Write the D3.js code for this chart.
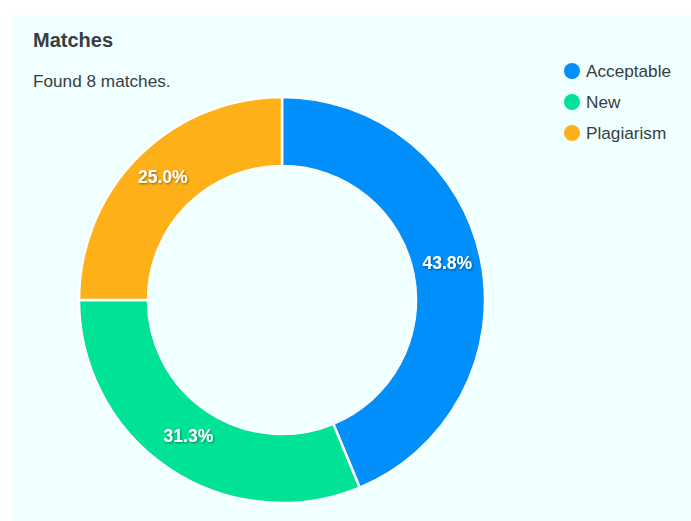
<!DOCTYPE html>
<html>
<head>
<meta charset="utf-8">
<script src="https://d3js.org/d3.v7.min.js"></script>
<style>
  html, body { margin: 0; padding: 0; background: #ffffff; }
  #chart { display: block; }
</style>
</head>
<body>
<svg id="chart"></svg>
<script>
// chart data
var categories = ["Acceptable", "New", "Plagiarism"];
var counts = [7, 5, 4];
var colors = ["#008ffb", "#00e396", "#feb019"];
var title = "Matches";
var subtitle = "Found 8 matches.";

var W = 691, H = 521;
var cx = 282, cy = 300,
    outerR = 203, innerR = 134;

var svg = d3.select("#chart")
    .attr("width", W)
    .attr("height", H)
    .style("font-family", "'Liberation Sans', Arial, Helvetica, sans-serif");

// panel background
svg.append("rect")
    .attr("x", 12).attr("y", 15)
    .attr("width", W - 12).attr("height", H - 15)
    .attr("fill", "#f0ffff");

svg.append("text")
    .attr("x", 33).attr("y", 47)
    .attr("font-size", 20)
    .attr("font-weight", "bold")
    .attr("fill", "#373d3f")
    .text(title);

svg.append("text")
    .attr("x", 33).attr("y", 87)
    .attr("font-size", 17.2)
    .attr("fill", "#373d3f")
    .text(subtitle);

// drop shadow for the value labels
var defs = svg.append("defs");
var f = defs.append("filter").attr("id", "shadow")
    .attr("x", "-20%").attr("y", "-20%").attr("width", "140%").attr("height", "140%");
f.append("feDropShadow")
    .attr("dx", 1).attr("dy", 1).attr("stdDeviation", 1)
    .attr("flood-color", "#000").attr("flood-opacity", 0.45);

var pie = d3.pie().sort(null).value(function(d) { return d; });
var arcs = pie(counts);
var total = d3.sum(counts);

var arc = d3.arc().innerRadius(innerR).outerRadius(outerR);
var labelArc = d3.arc().innerRadius((innerR + outerR) / 2).outerRadius((innerR + outerR) / 2);

var g = svg.append("g").attr("transform", "translate(" + cx + "," + cy + ")");

g.selectAll("path.slice")
    .data(arcs)
    .enter()
    .append("path")
    .attr("class", "slice")
    .attr("d", arc)
    .attr("fill", function(d, i) { return colors[i]; })
    .attr("stroke", "#ffffff")
    .attr("stroke-width", 2.5);

g.selectAll("text.val")
    .data(arcs)
    .enter()
    .append("text")
    .attr("class", "val")
    .attr("transform", function(d) { return "translate(" + labelArc.centroid(d) + ")"; })
    .attr("text-anchor", "middle")
    .attr("dy", "0.1em")
    .attr("font-size", 17.5)
    .attr("font-weight", "bold")
    .attr("fill", "#ffffff")
    .attr("filter", "url(#shadow)")
    .text(function(d) { return (d.value / total * 100).toFixed(1) + "%"; });

// legend
var legend = svg.append("g").attr("transform", "translate(572,71)");
var rows = legend.selectAll("g")
    .data(categories)
    .enter()
    .append("g")
    .attr("transform", function(d, i) { return "translate(0," + (i * 31) + ")"; });

rows.append("circle")
    .attr("r", 8)
    .attr("fill", function(d, i) { return colors[i]; });

rows.append("text")
    .attr("x", 14)
    .attr("dy", "0.35em")
    .attr("font-size", 17.2)
    .attr("fill", "#373d3f")
    .text(function(d) { return d; });
</script>
</body>
</html>
